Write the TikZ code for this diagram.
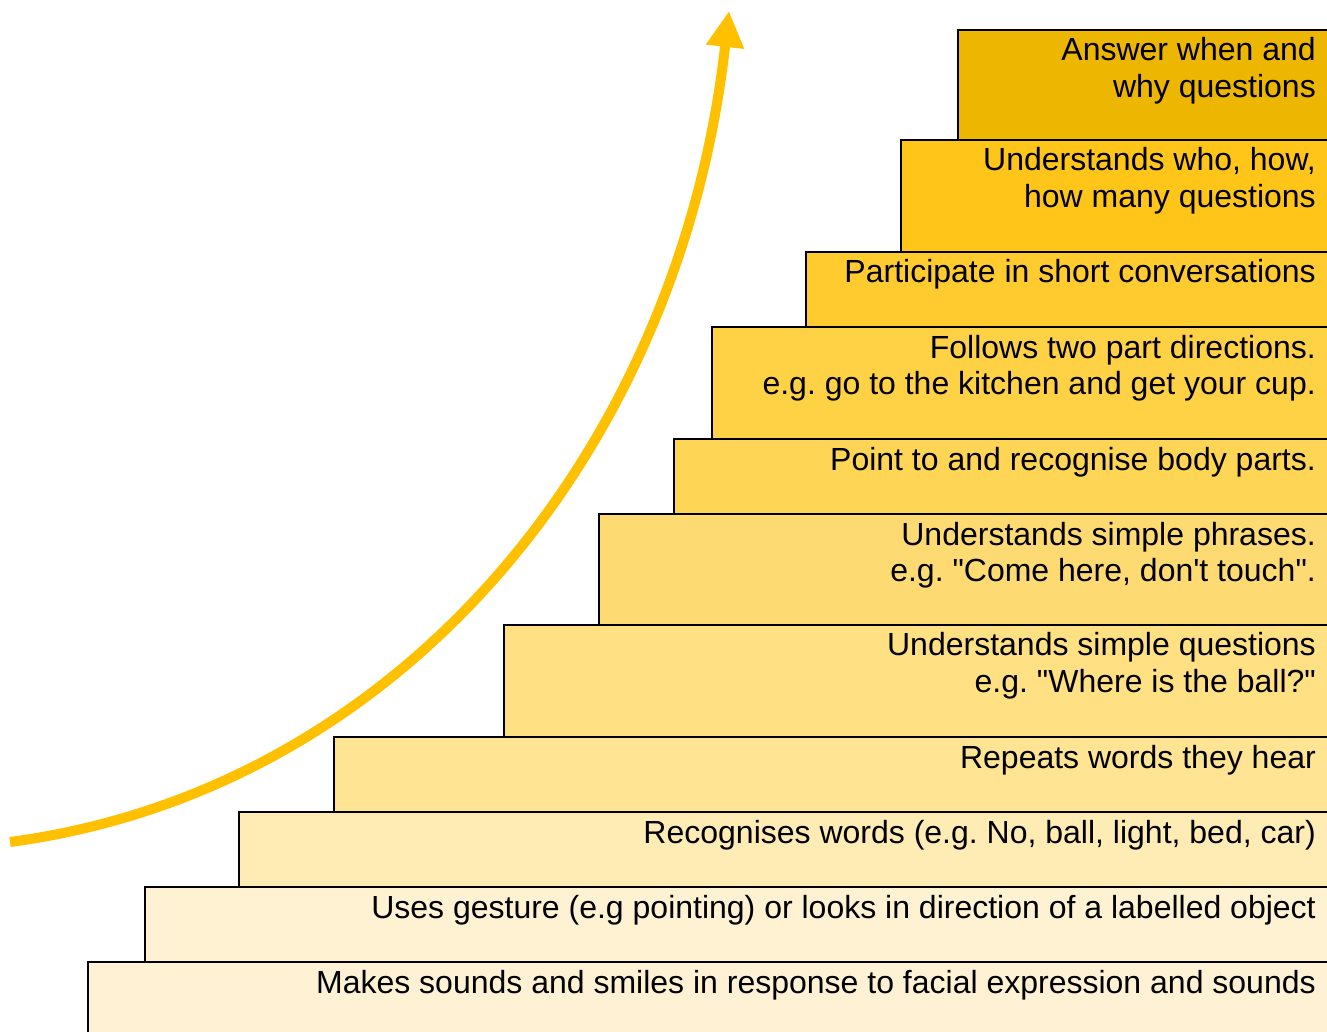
\documentclass[tikz,border=0pt]{standalone}
\usepackage{fontspec}
\setmainfont{Liberation Sans}
\usetikzlibrary{arrows.meta}

\definecolor{stA}{HTML}{EDB600}
\definecolor{stB}{HTML}{FFC619}
\definecolor{stC}{HTML}{FFCB2E}
\definecolor{stD}{HTML}{FFD144}
\definecolor{stE}{HTML}{FFD555}
\definecolor{stF}{HTML}{FEDB72}
\definecolor{stG}{HTML}{FFE082}
\definecolor{stH}{HTML}{FFE493}
\definecolor{stI}{HTML}{FFEBB4}
\definecolor{stJ}{HTML}{FFF2D3}
\definecolor{stK}{HTML}{FFF2D4}
\definecolor{growth}{HTML}{FFC000}

\frenchspacing

\tikzset{
  stepbox/.style={draw=black, line width=2.6pt, fill=#1},
  % anchored at the baseline of the last line
  steplabel/.style={anchor=base east, inner sep=0pt, align=right,
    font=\fontsize{32}{36.8}\selectfont},
  growtharrow/.style={draw=growth, line width=10pt,
    -{Triangle[length=36pt,width=36pt]}}
}

\begin{document}
\begin{tikzpicture}[x=1pt,y=-1pt]
  \useasboundingbox (0,0) rectangle (1327,1032);
  \clip (0,0) rectangle (1327,1032);

  % staircase, drawn from the top step down
  \path[stepbox=stA] (958,30)  rectangle (1340,140);
  \path[stepbox=stB] (901,140) rectangle (1340,252);
  \path[stepbox=stC] (806,252) rectangle (1340,327);
  \path[stepbox=stD] (712,327) rectangle (1340,439);
  \path[stepbox=stE] (674,439) rectangle (1340,514);
  \path[stepbox=stF] (599,514) rectangle (1340,625);
  \path[stepbox=stG] (504,625) rectangle (1340,737);
  \path[stepbox=stH] (334,737) rectangle (1340,812);
  \path[stepbox=stI] (239,812) rectangle (1340,887);
  \path[stepbox=stJ] (145,887) rectangle (1340,962);
  \path[stepbox=stK] (88,962)  rectangle (1340,1045);

  % step texts
  \node[steplabel] (t1)  at (1316,97.8)  {Answer when and\\why questions};
  \node[steplabel] (t2)  at (1316,207.8) {Understands who, how,\\how many questions};
  \node[steplabel] (t3)  at (1316,283)   {Participate in short conversations};
  \node[steplabel] (t4)  at (1316,394.8) {Follows two part directions.\\e.g. go to the kitchen and get your cup.};
  \node[steplabel] (t5)  at (1316,470)   {Point to and recognise body parts.};
  \node[steplabel] (t6)  at (1316,581.8) {Understands simple phrases.\\e.g. \textquotedbl Come here, don\textquotesingle t touch\textquotedbl.};
  \node[steplabel] (t7)  at (1316,692.3) {Understands simple questions\\e.g. \textquotedbl Where is the ball?\textquotedbl};
  \node[steplabel] (t8)  at (1316,768)   {Repeats words they hear};
  \node[steplabel] (t9)  at (1316,843)   {Recognises words (e.g. No, ball, light, bed, car)};
  \node[steplabel] (t10) at (1316,918)   {Uses gesture (e.g pointing) or looks in direction of a labelled object};
  \node[steplabel] (t11) at (1316,993)   {Makes sounds and smiles in response to facial expression and sounds};

  % rising growth arrow
  \coordinate (arrowstart) at (10,842);
  \coordinate (arrowtip) at (729,11);
  \draw[growtharrow] (arrowstart) .. controls (400,790) and (680,450) .. (arrowtip);
\end{tikzpicture}
\end{document}
